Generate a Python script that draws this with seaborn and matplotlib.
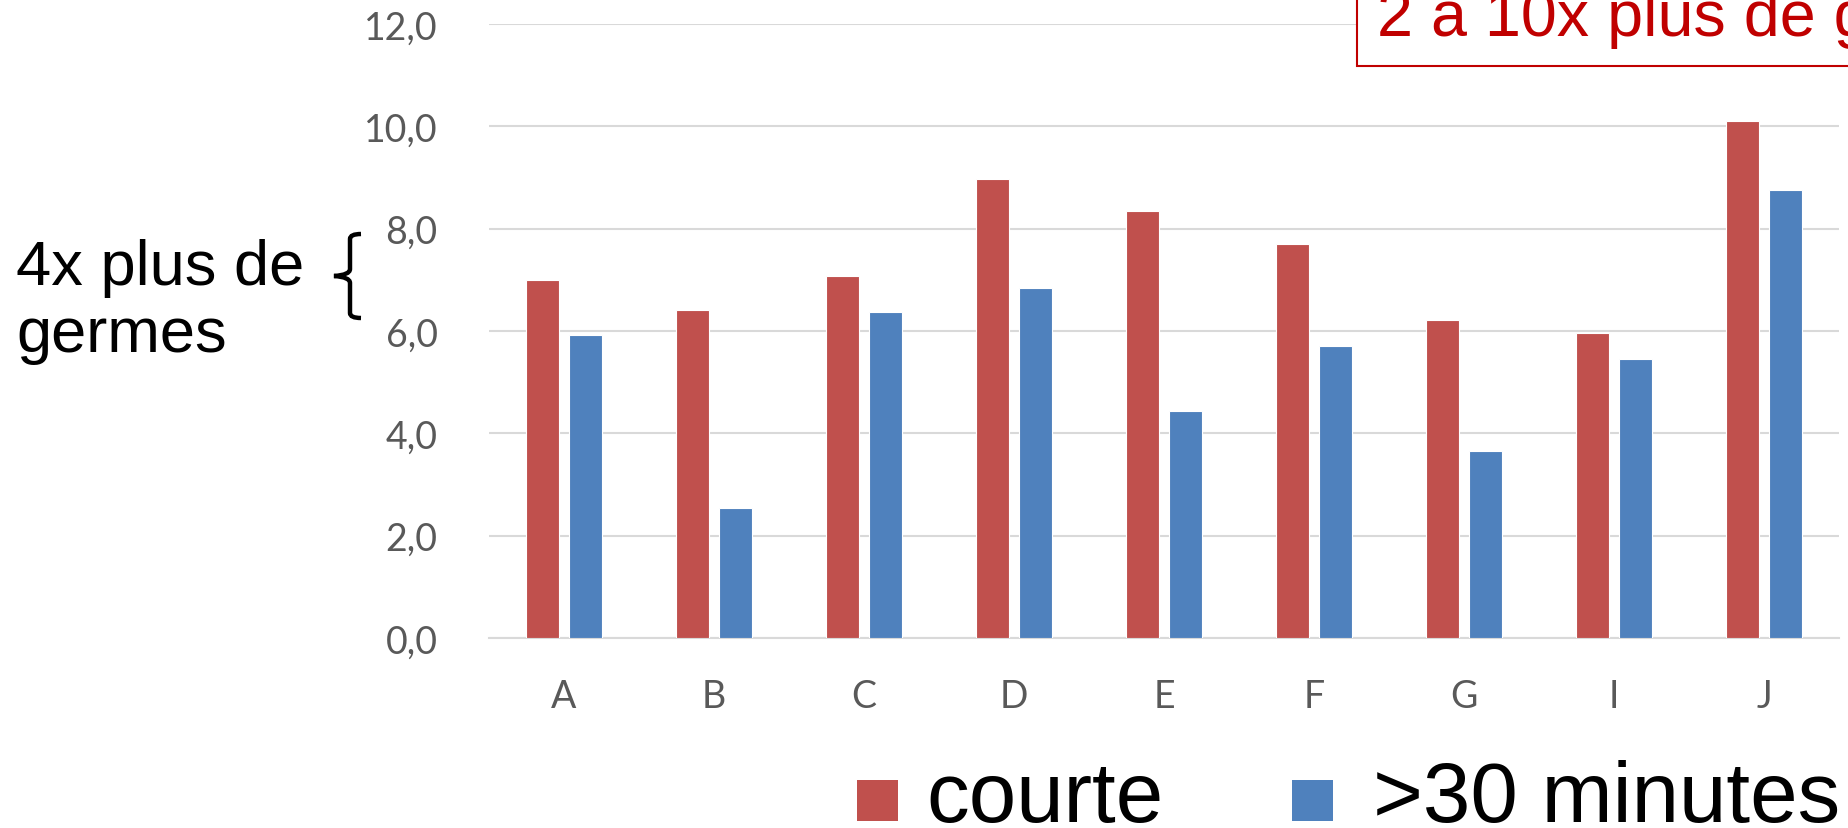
import matplotlib
matplotlib.use("Agg")
import matplotlib.pyplot as plt
import seaborn as sns
import pandas as pd
from matplotlib.patches import Rectangle, PathPatch
from matplotlib.path import Path

categories = ["A", "B", "C", "D", "E", "F", "G", "I", "J"]
courte = [7.0, 6.42, 7.07, 8.97, 8.35, 7.71, 6.22, 5.96, 10.1]
longue = [5.92, 2.54, 6.38, 6.85, 4.44, 5.70, 3.65, 5.45, 8.75]
series_names = ["courte", ">30 minutes"]
series_colors = ["#C0504D", "#4F81BD"]
yticks = [0, 2, 4, 6, 8, 10, 12]
ytick_labels = ["0,0", "2,0", "4,0", "6,0", "8,0", "10,0", "12,0"]
left_text = ["4x plus de", "germes"]
box_text = "2 à 10x plus de germes"

W, H = 1848, 829
df = pd.DataFrame({
    "cat": categories * 2,
    "val": courte + longue,
    "serie": [series_names[0]] * len(categories) + [series_names[1]] * len(categories),
})

sns.set_theme(style="white")
plt.rcParams["font.family"] = ["Liberation Sans", "DejaVu Sans"]

fig = plt.figure(figsize=(W / 100, H / 100), dpi=100)
ax = fig.add_axes([489 / W, 1 - 639 / H, 1350 / W, (639 - 25) / H])

sns.barplot(data=df, x="cat", y="val", hue="serie", order=categories,
            hue_order=series_names, palette=series_colors, saturation=1,
            width=0.565, gap=0.22, edgecolor="white", linewidth=0.8,
            ax=ax, zorder=3, legend=False)

ax.set_xlim(-0.5, len(categories) - 0.5)
ax.set_ylim(0, 12)
ax.set_yticks(yticks)
ax.set_yticklabels(ytick_labels)
ax.set_xlabel("")
ax.set_ylabel("")
ax.grid(axis="y", color="#D9D9D9", linewidth=1.5, zorder=0)
ax.set_axisbelow(True)
for s in ["top", "right", "left"]:
    ax.spines[s].set_visible(False)
ax.spines["bottom"].set_color("#D9D9D9")
ax.spines["bottom"].set_linewidth(1.5)
ax.tick_params(axis="both", length=0)
ax.tick_params(axis="y", pad=37)
ax.tick_params(axis="x", pad=29)
for lab in ax.get_yticklabels() + ax.get_xticklabels():
    lab.set_fontfamily(["Lato", "DejaVu Sans"])
    lab.set_fontsize(27)
    lab.set_color("#595959")


def fp(x, y):
    return (x / W, 1 - y / H)


# legend (drawn in figure pixels)
leg_items = [(857, 926), (1292, 1373)]
for (sq_x, tx_x), name, col in zip(leg_items, series_names, series_colors):
    fig.patches.append(Rectangle(fp(sq_x, 822), 41 / W, 41 / H, transform=fig.transFigure,
                                 facecolor=col, edgecolor="none"))
    fig.text(*fp(tx_x, 822), name, fontsize=61.5, color="black",
             va="baseline", ha="left")

# left annotation
fig.text(*fp(16, 285), left_text[0], fontsize=45.5, color="black", va="baseline", ha="left")
fig.text(*fp(16, 352), left_text[1], fontsize=45.5, color="black", va="baseline", ha="left")

# brace
verts = [fp(361, 235), fp(350, 235), fp(350, 240), fp(350, 246),
         fp(350, 270), fp(350, 276), fp(334, 277),
         fp(350, 278), fp(350, 284), fp(350, 308),
         fp(350, 314), fp(350, 319), fp(361, 319)]
codes = [Path.MOVETO, Path.CURVE3, Path.CURVE3, Path.LINETO,
         Path.LINETO, Path.CURVE3, Path.CURVE3,
         Path.CURVE3, Path.CURVE3, Path.LINETO,
         Path.LINETO, Path.CURVE3, Path.CURVE3]
fig.patches.append(PathPatch(Path(verts, codes), transform=fig.transFigure,
                             fill=False, edgecolor="black", linewidth=3.2,
                             capstyle="butt", joinstyle="miter"))

# red box at top right
fig.patches.append(Rectangle(fp(1357, 67), 600 / W, 120 / H, transform=fig.transFigure,
                             facecolor="white", edgecolor="#C00000", linewidth=1.5,
                             zorder=5, clip_on=False))
fig.text(*fp(1377, 36), box_text, fontsize=46.5, color="#C00000", va="baseline",
         ha="left", zorder=6)

fig.savefig("out.png", dpi=100)
